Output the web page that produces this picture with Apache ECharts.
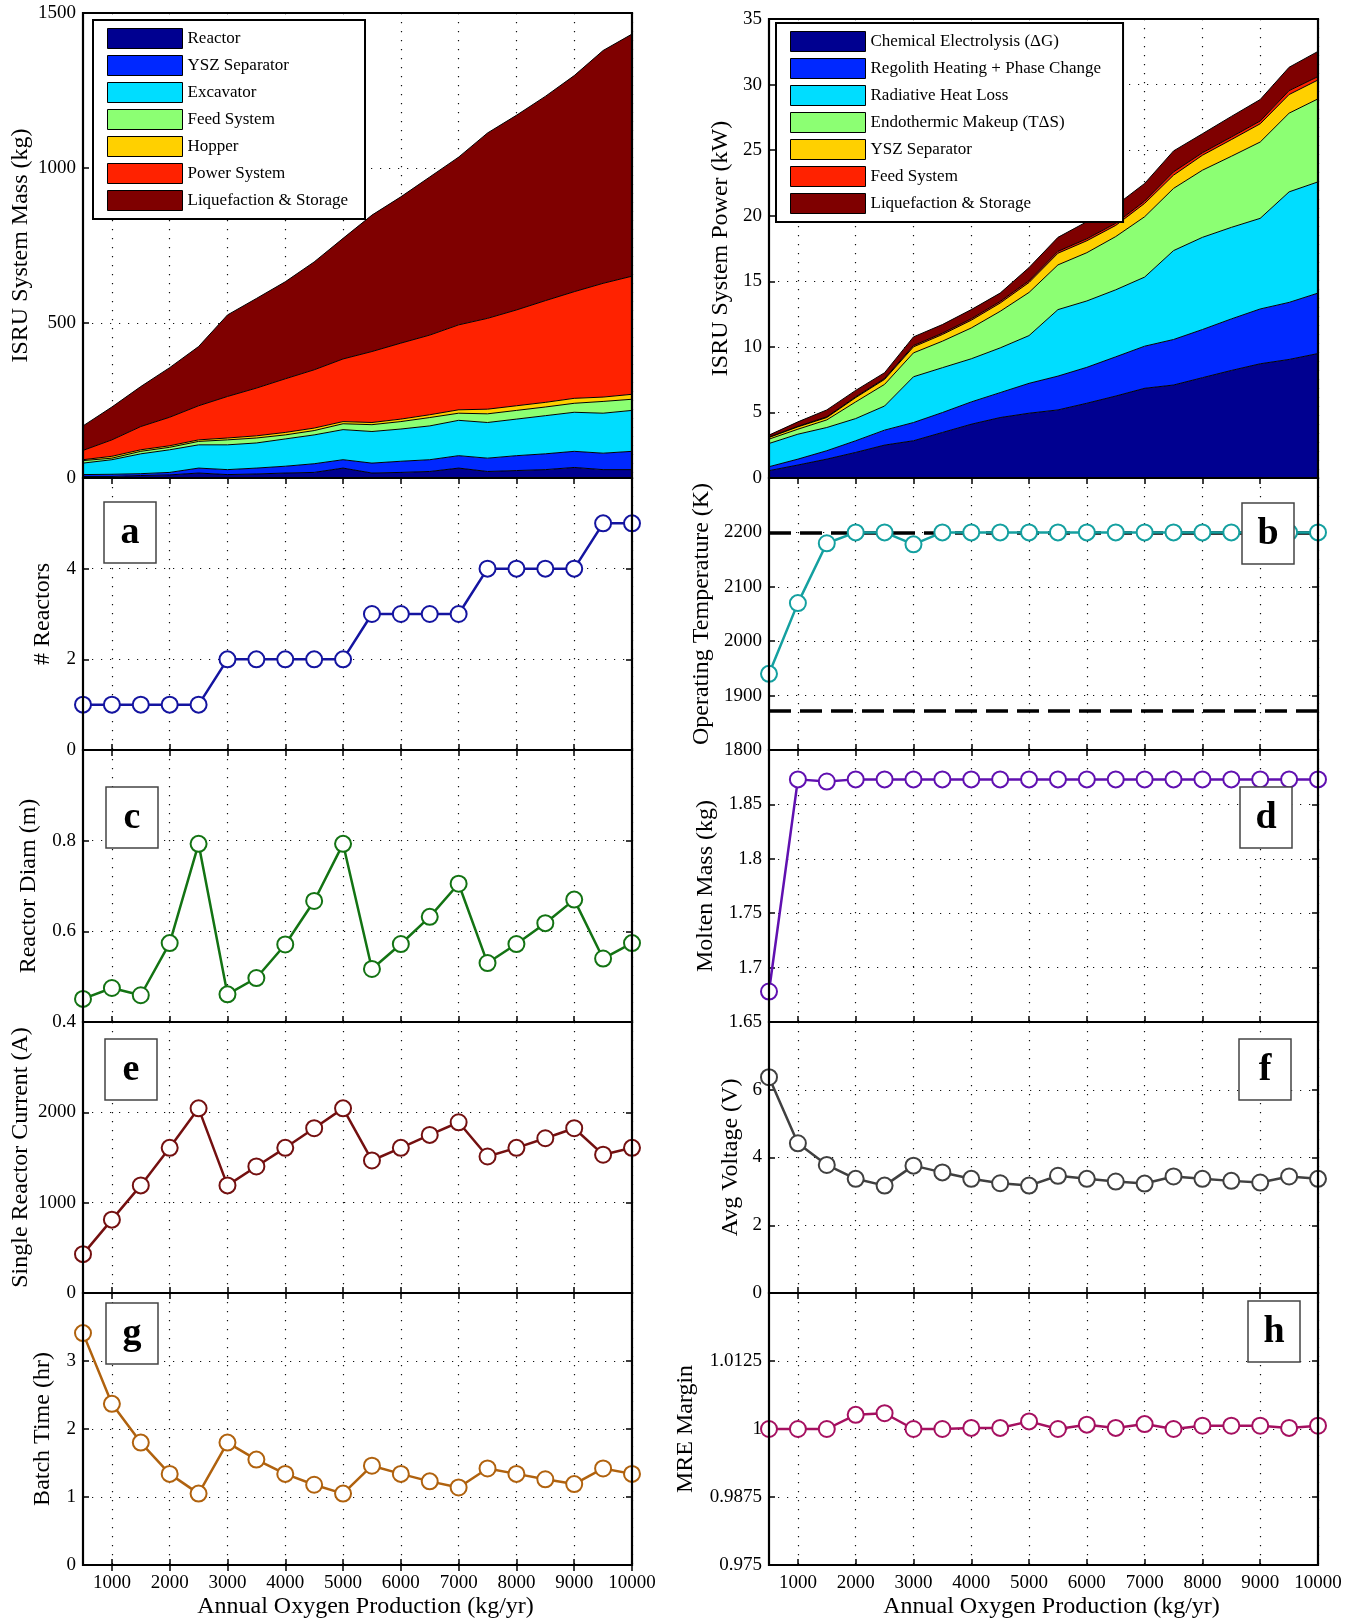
<!DOCTYPE html>
<html><head><meta charset="utf-8">
<script src="https://cdn.jsdelivr.net/npm/echarts@6/dist/echarts.min.js"></script>
<style>html,body{margin:0;padding:0;background:#fff}#c{width:1356px;height:1623px}</style>
</head><body><div id="c"></div>
<script>
// ---------- data ----------
const xCats = ['500','1000','1500','2000','2500','3000','3500','4000','4500','5000','5500','6000','6500','7000','7500','8000','8500','9000','9500','10000'];

// mass components (kg)
const massReactor = [5,5,8,10,16,11,13,16,18,32,16,18,21,32,21,24,27,34,27,27];
const massYSZ     = [6,7,6,8,16,16,19,22,28,27,32,36,38,40,43,48,51,52,53,59];
const massExcav   = [37,47,64,73,75,80,81,88,93,97,102,104,109,114,115,118,123,126,129,132];
const massFeed    = [8,5,8,8,11,16,16,13,14,19,22,24,27,23,28,28,28,29,38,36];
const massHopper  = [3,6,5,5,5,6,7,8,8,7,7,8,9,11,15,15,15,16,14,16];
const massPower   = [30,53,75,92,110,134,154,173,188,202,229,245,257,274,293,309,328,344,367,381];
const massLiq     = [79,106,129,160,191,263,289,313,348,389,440,472,510,541,598,628,659,697,751,781];

// power components (kW)
const pwrChem   = [0.56,0.99,1.44,1.95,2.51,2.84,3.47,4.10,4.61,4.94,5.19,5.70,6.25,6.84,7.09,7.65,8.20,8.71,9.04,9.49];
const pwrRegHeat= [0.30,0.45,0.64,0.89,1.14,1.39,1.52,1.70,1.90,2.28,2.58,2.74,2.99,3.21,3.47,3.67,3.93,4.18,4.35,4.61];
const pwrRad    = [1.77,1.90,1.77,1.69,1.84,3.49,3.42,3.29,3.41,3.64,5.07,5.06,5.11,5.27,6.78,7.03,6.98,6.91,8.43,8.48];
const pwrEndo   = [0.33,0.38,0.58,1.27,1.65,1.82,2.02,2.35,2.79,3.29,3.41,3.68,4.06,4.60,4.74,5.12,5.42,5.82,6.00,6.33];
const pwrYSZ    = [0.13,0.18,0.18,0.33,0.38,0.46,0.51,0.59,0.63,0.76,0.89,0.91,0.85,1.02,1.01,1.14,1.27,1.39,1.42,1.44];
const pwrFeed   = [0.03,0.04,0.05,0.06,0.07,0.10,0.10,0.11,0.12,0.13,0.14,0.15,0.16,0.17,0.25,0.19,0.20,0.21,0.30,0.26];
const pwrLiq    = [0.15,0.34,0.53,0.49,0.44,0.66,0.66,0.70,0.64,1.01,1.07,1.30,1.36,1.35,1.60,1.45,1.57,1.64,1.78,1.92];

// single-variable panels
const nReactors   = [1,1,1,1,1,2,2,2,2,2,3,3,3,3,4,4,4,4,5,5];
const opTemp      = [1940,2070,2180,2200,2200,2178,2200,2200,2200,2200,2200,2200,2200,2200,2200,2200,2200,2200,2200,2200];
const tempLimits  = [2200,1873];
const reactorDiam = [0.451,0.475,0.459,0.574,0.793,0.461,0.497,0.571,0.667,0.793,0.517,0.572,0.632,0.705,0.530,0.572,0.618,0.670,0.540,0.574];
const moltenMass  = [1.678,1.873,1.871,1.873,1.873,1.873,1.873,1.873,1.873,1.873,1.873,1.873,1.873,1.873,1.873,1.873,1.873,1.873,1.873,1.873];
const current     = [430,812,1191,1607,2044,1191,1401,1607,1824,2044,1467,1607,1750,1890,1511,1607,1713,1824,1531,1607];
const avgVoltage  = [6.37,4.42,3.78,3.37,3.17,3.76,3.56,3.37,3.24,3.17,3.46,3.37,3.29,3.23,3.44,3.37,3.31,3.26,3.44,3.37];
const batchTime   = [3.41,2.37,1.80,1.34,1.05,1.80,1.55,1.34,1.18,1.05,1.46,1.34,1.23,1.14,1.42,1.34,1.26,1.19,1.42,1.34];
const mreMargin   = [1.0,1.0,1.0,1.0026,1.0029,1.0,1.0,1.0002,1.0002,1.0014,1.0,1.0008,1.0002,1.0009,1.0,1.0006,1.0006,1.0006,1.0002,1.0006];

const massNames = ['Reactor','YSZ Separator','Excavator','Feed System','Hopper','Power System','Liquefaction & Storage'];
const pwrNames  = ['Chemical Electrolysis (\u0394G)','Regolith Heating + Phase Change','Radiative Heat Loss','Endothermic Makeup (T\u0394S)','YSZ Separator\u200B','Feed System\u200B','Liquefaction & Storage\u200B'];
const layerColors = ['#000090','#0028FF','#00DDFF','#8CFF73','#FFD000','#FF2200','#7F0000'];
const xTitle = 'Annual Oxygen Production (kg/yr)';

// ---------- layout ----------
const FONT = '"Liberation Serif", "Times New Roman", Times, serif';
const W = 549;
const G = [
  {l:83,  t:13,   h:465}, {l:769, t:19,   h:459},
  {l:83,  t:478,  h:272}, {l:769, t:478,  h:272},
  {l:83,  t:750,  h:272}, {l:769, t:750,  h:272},
  {l:83,  t:1022, h:271}, {l:769, t:1022, h:271},
  {l:83,  t:1293, h:272}, {l:769, t:1293, h:272}
];
const Y = [
  {min:0,    max:1500, int:500,   name:'ISRU System Mass (kg)',      gap:50, showMax:true},
  {min:0,    max:35,   int:5,     name:'ISRU System Power (kW)',     gap:36, showMax:true},
  {min:0,    max:6,    int:2,     name:'# Reactors',                 gap:28},
  {min:1800, max:2300, int:100,   name:'Operating Temperature (K)',  gap:55},
  {min:0.4,  max:1.0,  int:0.2,   name:'Reactor Diam (m)',           gap:42},
  {min:1.65, max:1.9,  int:0.05,  name:'Molten Mass (kg)',           gap:51},
  {min:0,    max:3000, int:1000,  name:'Single Reactor Current (A)', gap:50},
  {min:0,    max:8,    int:2,     name:'Avg Voltage (V)',            gap:26},
  {min:0,    max:4,    int:1,     name:'Batch Time (hr)',            gap:28},
  {min:0.975,max:1.025,int:0.0125,name:'MRE Margin',                 gap:71}
];
const letters = [
  {ch:'a',x:104,y:502},{ch:'b',x:1242,y:503},
  {ch:'c',x:106,y:787},{ch:'d',x:1240,y:787},
  {ch:'e',x:105,y:1039},{ch:'f',x:1239,y:1039},
  {ch:'g',x:106,y:1303},{ch:'h',x:1248,y:1301}
];

const oddIdx = (i) => i % 2 === 1;
const gridLine = {show:true, lineStyle:{color:'#111', width:1.2, type:[1.2,7.8]}};
const txt = (size) => ({color:'#000', fontFamily:FONT, fontSize:size});

const grids = [], xAxes = [], yAxes = [], series = [], graphics = [];
G.forEach((g, i) => {
  grids.push({left:g.l, top:g.t, width:W, height:g.h, show:false, outerBoundsMode:'none', containLabel:false});
  const bottom = i >= 8;
  xAxes.push({
    type:'category', gridIndex:i, data:xCats, boundaryGap:false, position:'bottom',
    axisLine:{show:false},
    axisTick:{show:true, inside:true, length:6, interval:oddIdx, lineStyle:{color:'#000', width:1.5}},
    axisLabel:Object.assign({show:bottom, interval:oddIdx, margin:9}, txt(19)),
    splitLine:Object.assign({interval:oddIdx}, gridLine),
    name: bottom ? xTitle : '', nameLocation:'middle', nameGap:30, nameMoveOverlap:false,
    nameTextStyle:Object.assign({padding:[0,0,0,16]}, txt(24))
  });
  const y = Y[i];
  yAxes.push({
    type:'value', gridIndex:i, min:y.min, max:y.max, interval:y.int, position:'left',
    axisLine:{show:false},
    axisTick:{show:true, inside:true, length:6, lineStyle:{color:'#000', width:1.5}},
    axisLabel:Object.assign({show:true, margin:7,
      showMaxLabel: !!y.showMax, showMinLabel:true,
      formatter:(v)=>String(+(+v).toFixed(4))}, txt(19)),
    splitLine:gridLine,
    name:y.name, nameLocation:'middle', nameGap:y.gap, nameMoveOverlap:false,
    nameTextStyle:txt(24)
  });
  graphics.push({type:'rect', shape:{x:g.l, y:g.t, width:W, height:g.h},
    style:{fill:'none', stroke:'#000', lineWidth:2.2}, z:50, silent:true});
});
// mirrored ticks on top / right
G.forEach((g, i) => {
  xAxes.push({
    type:'category', gridIndex:i, data:xCats, boundaryGap:false, position:'top',
    axisLine:{show:false}, axisLabel:{show:false}, splitLine:{show:false},
    axisTick:{show:true, inside:true, length:6, interval:oddIdx, lineStyle:{color:'#000', width:1.5}}
  });
  const y = Y[i];
  yAxes.push({
    type:'value', gridIndex:i, min:y.min, max:y.max, interval:y.int, position:'right',
    axisLine:{show:false}, axisLabel:{show:false}, splitLine:{show:false},
    axisTick:{show:true, inside:true, length:6, lineStyle:{color:'#000', width:1.5}}
  });
});

// stacked areas
const massData = [massReactor,massYSZ,massExcav,massFeed,massHopper,massPower,massLiq];
massData.forEach((d, k) => series.push({
  type:'line', name:massNames[k], xAxisIndex:0, yAxisIndex:0, stack:'mass', data:d,
  symbol:'none', lineStyle:{color:'#000', width:1}, itemStyle:{color:layerColors[k]},
  areaStyle:{color:layerColors[k], opacity:1}, z:2
}));
const pwrData = [pwrChem,pwrRegHeat,pwrRad,pwrEndo,pwrYSZ,pwrFeed,pwrLiq];
pwrData.forEach((d, k) => series.push({
  type:'line', name:pwrNames[k], xAxisIndex:1, yAxisIndex:1, stack:'power', data:d,
  symbol:'none', lineStyle:{color:'#000', width:1}, itemStyle:{color:layerColors[k]},
  areaStyle:{color:layerColors[k], opacity:1}, z:2
}));

// single-line panels
const lineSpecs = [
  {i:2, d:nReactors,   c:'#1414A0'},
  {i:3, d:opTemp,      c:'#14A0A0'},
  {i:4, d:reactorDiam, c:'#137313'},
  {i:5, d:moltenMass,  c:'#6010B0'},
  {i:6, d:current,     c:'#741010'},
  {i:7, d:avgVoltage,  c:'#404040'},
  {i:8, d:batchTime,   c:'#B0620E'},
  {i:9, d:mreMargin,   c:'#A51060'}
];
lineSpecs.forEach(s => {
  const ser = {
    type:'line', xAxisIndex:s.i, yAxisIndex:s.i, data:s.d, z:10,
    symbol:'emptyCircle', symbolSize:16, showAllSymbol:true,
    lineStyle:{color:s.c, width:2.5},
    itemStyle:{color:s.c, borderColor:s.c, borderWidth:2.5}
  };
  if (s.i === 3) {
    ser.markLine = {
      silent:true, symbol:'none', label:{show:false}, z:5,
      lineStyle:{color:'#000', width:3.6, type:[22,9]},
      data: tempLimits.map(v => ({yAxis:v}))
    };
  }
  series.push(ser);
});

// panel letters
letters.forEach(L => {
  graphics.push({type:'rect', z:100, silent:true,
    shape:{x:L.x, y:L.y, width:52, height:61}, style:{fill:'#fff', stroke:'#444', lineWidth:1.5}});
  graphics.push({type:'text', z:101, silent:true, x:L.x+26, y:L.y+31,
    style:{text:L.ch, fill:'#000', font:'bold 38px "Liberation Serif"', align:'center', verticalAlign:'middle'}});
});

const legendCommon = {
  orient:'vertical', itemWidth:75, itemHeight:20, itemGap:6, icon:'rect',
  backgroundColor:'#fff', borderColor:'#000', borderWidth:2,
  itemStyle:{borderColor:'#000', borderWidth:1},
  textStyle:txt(17), selectedMode:false, z:20
};

const chart = echarts.init(document.getElementById('c'), null, {renderer:'canvas'});
chart.setOption({
  animation:false, backgroundColor:'#fff',
  textStyle:{fontFamily:FONT},
  grid:grids, xAxis:xAxes, yAxis:yAxes, series:series,
  legend:[
    Object.assign({left:93, top:20, data:massNames, padding:[8,17,8,14]}, legendCommon),
    Object.assign({left:776, top:23, data:pwrNames, padding:[8,22,8,14]}, legendCommon)
  ],
  graphic:{elements:graphics}
});
</script></body></html>
